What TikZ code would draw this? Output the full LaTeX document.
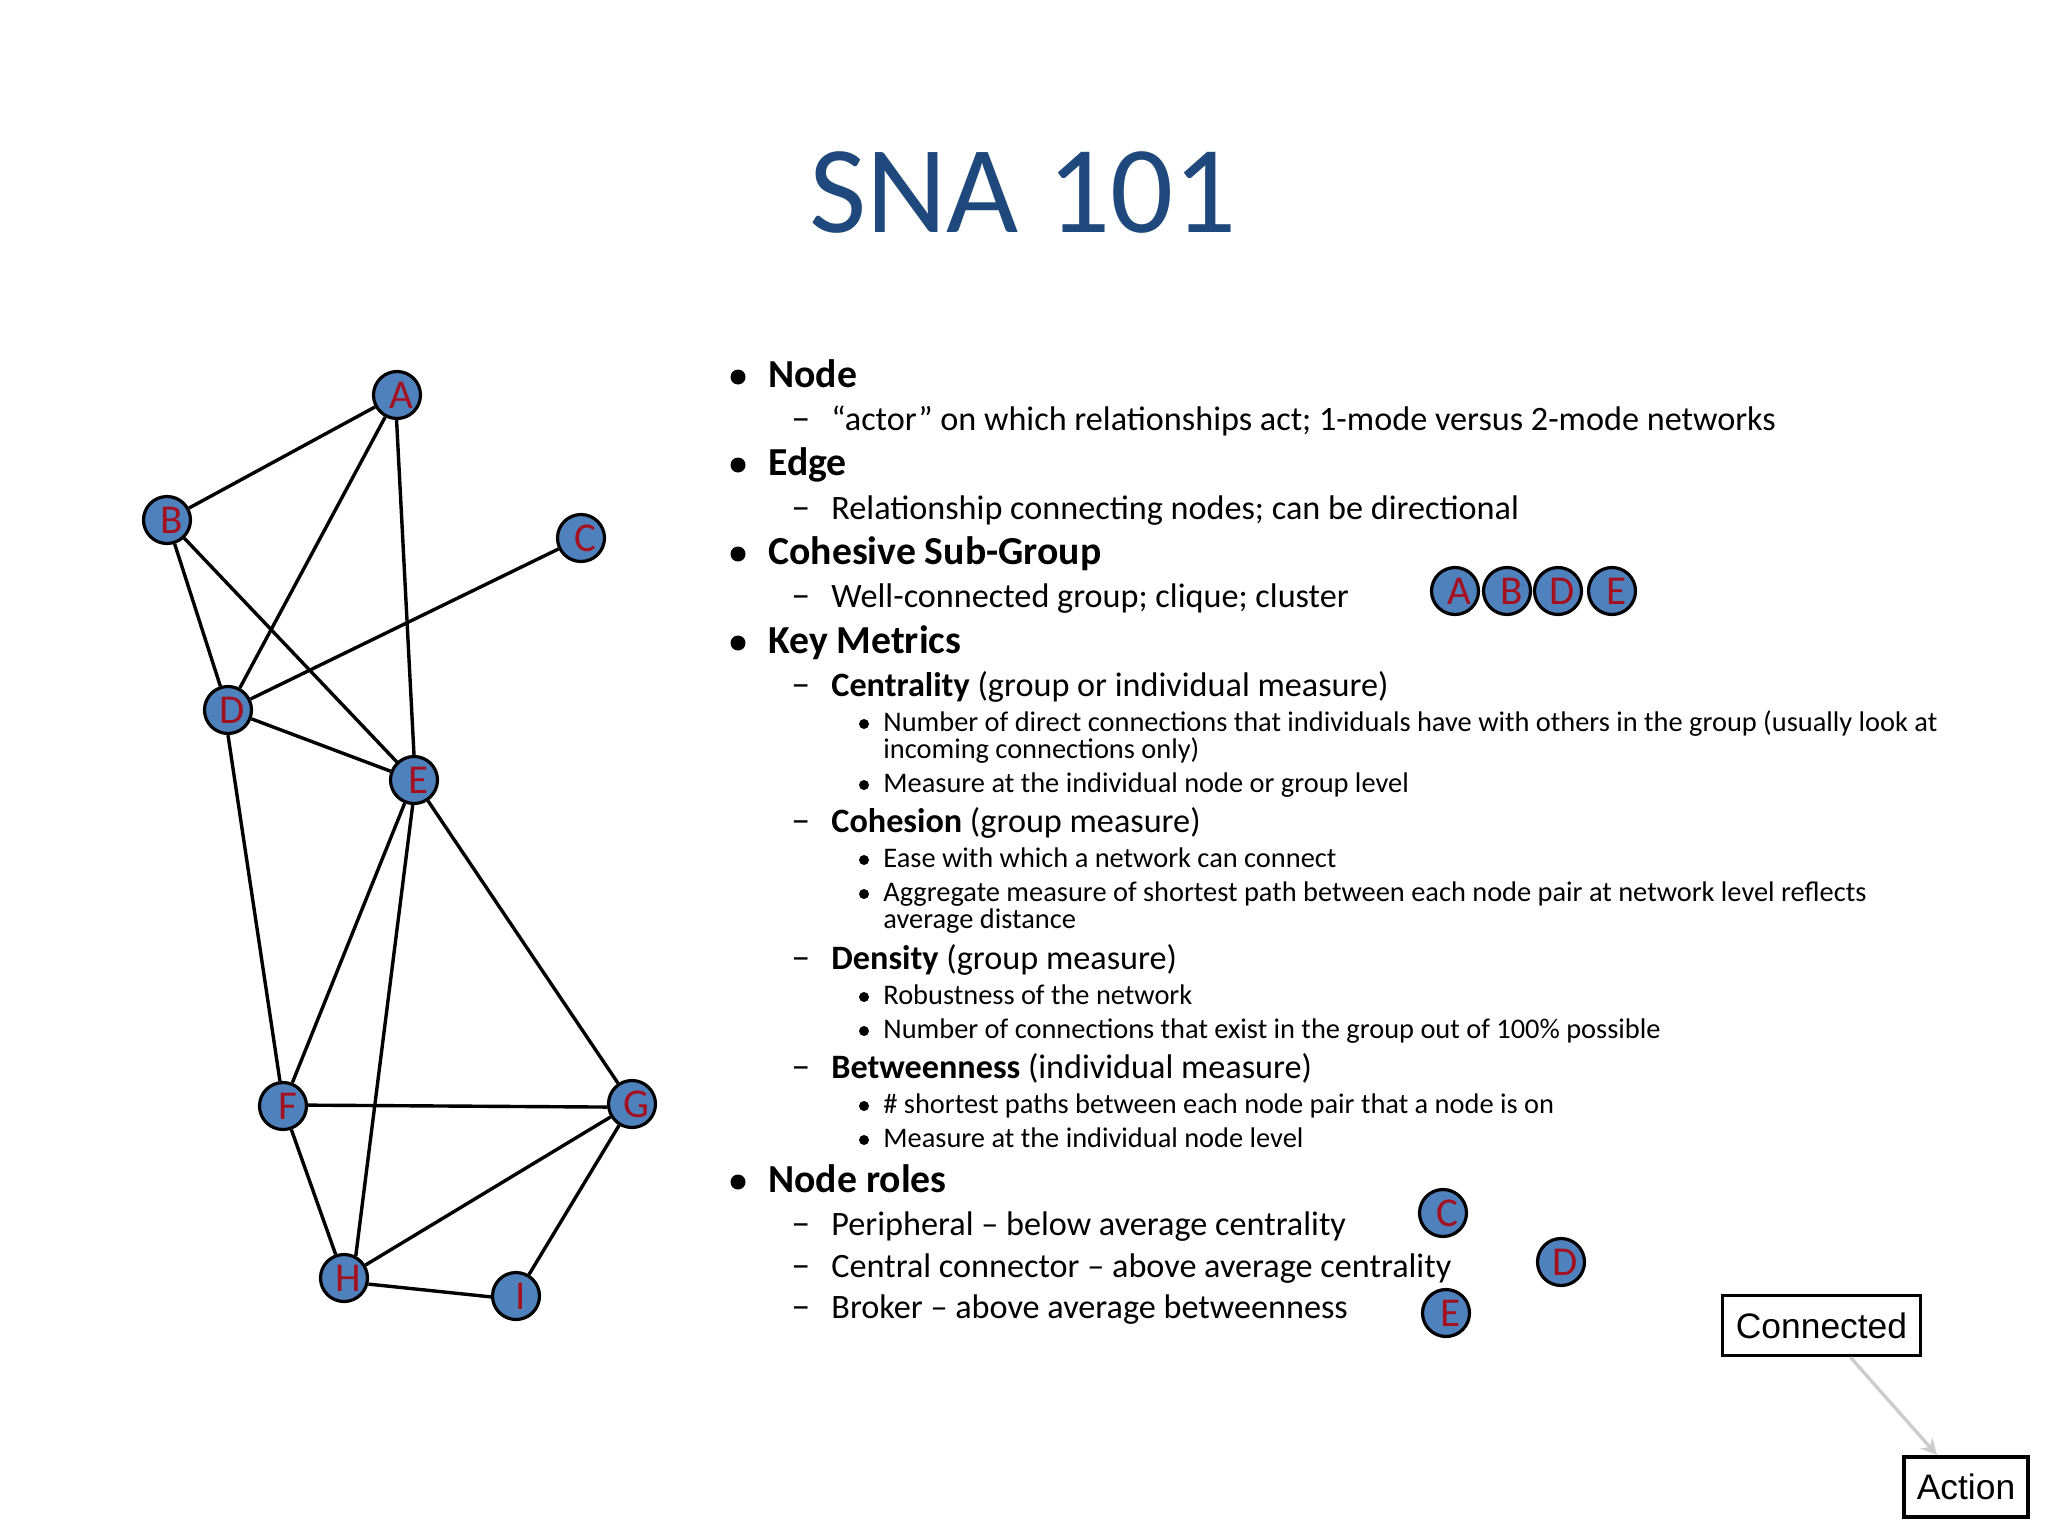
\documentclass[tikz,border=0pt]{standalone}
\usepackage{fontspec}
\setmainfont{Carlito}
\newfontfamily\arialf{Liberation Sans}
\definecolor{titleblue}{HTML}{1F497D}
\definecolor{dotblue}{HTML}{4F81BD}
\definecolor{dotred}{HTML}{A5101F}
\definecolor{arrowgrey}{HTML}{CCCCCC}
\newcommand\lett[1]{\kern4.5pt\raisebox{-1.5pt}{#1}}
\newcommand\lone[3]{%
  \node[bul,minimum size=7.5pt] (b#1) at (738,#2-10) {};
  \node[lonetext] (t#1) at (768,#2) {#3};}
\newcommand\ltwo[3]{%
  \node[dashtext] (b#1) at (791,#2) {–};
  \node[ltwotext] (t#1) at (831,#2) {#3};}
\newcommand\lthree[3]{%
  \node[bul,minimum size=5pt] (b#1) at (864,#2-7) {};
  \node[lthreetext] (t#1) at (883,#2) {#3};}
\newcommand\lcont[3]{\node[lthreetext] (t#1) at (883,#2) {#3};}
\tikzset{
  bul/.style={circle,fill=black,inner sep=0pt},
  lonetext/.style={anchor=base west,inner sep=0pt,font=\fontsize{19.85}{22}\selectfont\bfseries},
  ltwotext/.style={anchor=base west,inner sep=0pt,font=\fontsize{17.1}{20}\selectfont},
  dashtext/.style={anchor=base west,inner sep=0pt,font=\fontsize{19}{20}\selectfont},
  lthreetext/.style={anchor=base west,inner sep=0pt,font=\fontsize{14.2}{17}\selectfont},
  dot/.style={circle,draw=black,line width=1.6pt,fill=dotblue,minimum size=23.5pt,inner sep=0pt,text=dotred,font=\fontsize{20.5}{22}\selectfont},
  edgeline/.style={draw=black,line width=1.7pt},
  boxn/.style={draw=black,line width=1.9pt,fill=white,inner sep=0pt,font=\arialf\fontsize{17.7}{20}\selectfont},
  flow/.style={draw=arrowgrey,line width=1.7pt,-{Stealth[length=8pt,width=8pt]}},
}
\usetikzlibrary{arrows.meta}
\begin{document}
\begin{tikzpicture}[x=0.5pt,y=-0.5pt]
\useasboundingbox (0,0) rectangle (2048,1536);
\node[text=titleblue,font=\fontsize{62.3}{70}\selectfont,anchor=base,inner sep=0pt] (title) at (1023,232) {SNA 101};
% graph nodes
\node[dot] (A) at (397,395) {\lett{A}};
\node[dot] (B) at (167,520) {\lett{B}};
\node[dot] (C) at (581,538) {\lett{C}};
\node[dot] (D) at (228,710) {\lett{D}};
\node[dot] (E) at (414,780) {\lett{E}};
\node[dot] (F) at (283,1106) {\lett{F}};
\node[dot] (G) at (632,1104) {\lett{G}};
\node[dot] (H) at (344,1278) {\lett{H}};
\node[dot] (I) at (516,1296) {\lett{I}};
\foreach \u/\v in {A/B,A/D,B/D,B/E,C/D,D/E,E/F,E/G,F/H,G/H,G/I}
  \draw[edgeline] (\u) -- (\v);
\draw[edgeline] (A.-91) -- (E.90);
\draw[edgeline] (D.-90) -- (F.97);
\draw[edgeline] (E.-93) -- (H.62);
\draw[edgeline] (F.2) -- (G.187);
\draw[edgeline] (H.-14) -- (I.182);
% text
\lone{node}{387}{Node}
\ltwo{actor}{430}{“actor” on which relationships act; 1-mode versus 2-mode networks}
\lone{edge}{475}{Edge}
\ltwo{rel}{519}{Relationship connecting nodes; can be directional}
\lone{coh}{564}{Cohesive Sub-Group}
\ltwo{well}{607}{Well-connected group; clique; cluster}
\lone{key}{653}{Key Metrics}
\ltwo{cent}{696}{\textbf{Centrality} (group or individual measure)}
\lthree{num}{731}{Number of direct connections that individuals have with others in the group (usually look at}
\lcont{inc}{758}{incoming connections only)}
\lthree{meas}{792}{Measure at the individual node or group level}
\ltwo{cohn}{832}{\textbf{Cohesion} (group measure)}
\lthree{ease}{867}{Ease with which a network can connect}
\lthree{agg}{901}{Aggregate measure of shortest path between each node pair at network level reflects}
\lcont{avg}{928}{average distance}
\ltwo{dens}{969}{\textbf{Density} (group measure)}
\lthree{rob}{1004}{Robustness of the network}
\lthree{numc}{1038}{Number of connections that exist in the group out of 100\% possible}
\ltwo{betw}{1078}{\textbf{Betweenness} (individual measure)}
\lthree{short}{1113}{\# shortest paths between each node pair that a node is on}
\lthree{indiv}{1147}{Measure at the individual node level}
\lone{roles}{1192}{Node roles}
\ltwo{per}{1235}{Peripheral – below average centrality}
\ltwo{con}{1277}{Central connector – above average centrality}
\ltwo{bro}{1318}{Broker – above average betweenness}
% clique dots
\node[dot] (sA) at (1455,591) {\lett{A}};
\node[dot] (sB) at (1507,591) {\lett{B}};
\node[dot] (sD) at (1558,591) {\lett{D}};
\node[dot] (sE) at (1612,591) {\lett{E}};
% role dots
\node[dot] (rC) at (1443,1213) {\lett{C}};
\node[dot] (rD) at (1561,1262) {\lett{D}};
\node[dot] (rE) at (1446,1313) {\lett{E}};
% boxes
\node[boxn,minimum width=99pt,minimum height=30pt] (conn) at (1821.5,1325.5) {Connected};
\node[boxn,minimum width=62pt,minimum height=30pt] (act) at (1966,1487) {Action};
\draw[flow] ([xshift=14.5pt]conn.south) -- ([xshift=-14.5pt]act.north);
\end{tikzpicture}
\end{document}
